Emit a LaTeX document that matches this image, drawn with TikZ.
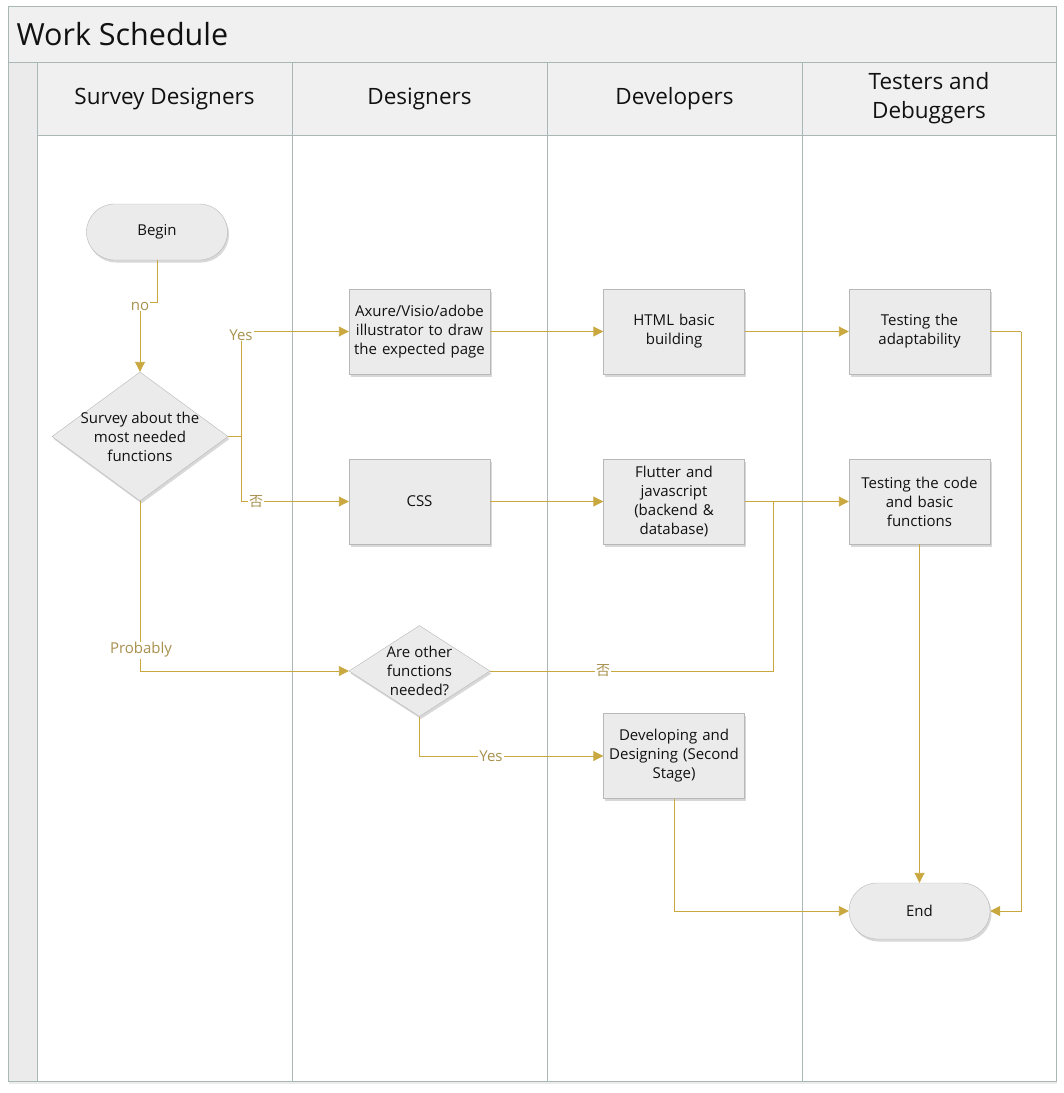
\documentclass[tikz,border=0pt]{standalone}
\usepackage{fontspec}
\setmainfont{Open Sans}
\newfontfamily\cjk{Noto Sans CJK SC}
\usetikzlibrary{arrows.meta,shadows,shapes.geometric}
\definecolor{gold}{HTML}{C9A840}
\definecolor{lblc}{HTML}{A8914E}
\definecolor{nodefill}{HTML}{EBEBEB}
\definecolor{nodeline}{HTML}{B8B8B8}
\definecolor{lanec}{HTML}{A9B8B6}
\definecolor{hdrfill}{HTML}{F0F0F0}
\definecolor{txt}{HTML}{111111}
\tikzset{
  nshadow/.style={drop shadow={shadow xshift=1.5pt,shadow yshift=-2.5pt,opacity=0.25,fill=black!60}},
  box/.style={rectangle,draw=nodeline,fill=nodefill,minimum width=141pt,minimum height=85pt,
    align=center,text width=138pt,inner sep=0pt,font=\fontsize{15}{19}\selectfont,text=txt,nshadow},
  term/.style={rectangle,rounded corners=28pt,draw=nodeline,fill=nodefill,minimum width=141pt,
    minimum height=56pt,align=center,font=\fontsize{15}{19}\selectfont,text=txt,nshadow},
  decision/.style={diamond,draw=nodeline,fill=nodefill,inner sep=0pt,nshadow},
  flow/.style={draw=gold,line width=0.9pt,-{Triangle[length=10pt,width=10pt]}},
  seg/.style={draw=gold,line width=0.9pt},
  lbl/.style={fill=white,inner sep=1pt,text=lblc,font=\fontsize{15}{17}\selectfont},
  hdr/.style={rectangle,draw=lanec,fill=hdrfill,minimum width=255pt,minimum height=73pt,
    align=center,font=\fontsize{22.5}{29}\selectfont,text=txt},
}
\begin{document}
\begin{tikzpicture}[x=1pt,y=-1pt]
\useasboundingbox (0,0) rectangle (1064,1093);
% outer frame
\fill[white,drop shadow={shadow xshift=1pt,shadow yshift=-3pt,opacity=0.15}] (8,6) rectangle (1056,1081);
\draw[lanec,fill=white] (8,6) rectangle (1056,1081);
\draw[lanec,fill=hdrfill] (8,6) rectangle (1056,62);
\node[anchor=west,font=\fontsize{30.5}{34}\selectfont,text=txt] (title) at (13,34) {Work Schedule};
\draw[lanec,fill=nodefill] (8,62) rectangle (37,1081);
% headers
\node[hdr] (h1) at (164.5,98.5) {Survey Designers};
\node[hdr] (h2) at (419.5,98.5) {Designers};
\node[hdr] (h3) at (674.5,98.5) {Developers};
\node[hdr,minimum width=254pt] (h4) at (929,98.5) {Testers and\\Debuggers};
\draw[lanec] (292,135) -- (292,1081);
\draw[lanec] (547,135) -- (547,1081);
\draw[lanec] (802,135) -- (802,1081);
\draw[lanec] (8,1081) -- (1056,1081);
% nodes
\node[term] (begin) at (157,232) {Begin};
\node[decision,minimum width=176pt,minimum height=129pt,
  label={[align=center,font=\fontsize{15}{19}\selectfont,text=txt]center:Survey about the\\most needed\\functions}] (survey) at (140,436.5) {};
\node[box] (axure) at (419.5,331.5) {Axure/Visio/adobe\\illustrator to draw\\the expected page};
\node[box] (css) at (419.5,501.5) {CSS};
\node[box] (html) at (674,331.5) {HTML basic\\building};
\node[box] (flutter) at (674,501.5) {Flutter and\\javascript\\(backend \&\\database)};
\node[box] (tadapt) at (919.5,331.5) {Testing the\\adaptability};
\node[box] (tcode) at (919.5,501.5) {Testing the code\\and basic\\functions};
\node[decision,minimum width=141pt,minimum height=91pt,
  label={[align=center,font=\fontsize{15}{19}\selectfont,text=txt]center:Are other\\functions\\needed?}] (are) at (419.5,671) {};
\node[box] (dev) at (674,756) {Developing and\\Designing (Second\\Stage)};
\node[term] (end) at (919.5,911) {End};
% connectors
\coordinate (jno) at (157,302);
\coordinate (split) at (241,436.5);
\coordinate (join) at (773,501.5);
\coordinate (rt) at (1021,331.5);
\draw[flow] (begin.south) -- (jno) -| (survey.north);
\draw[seg] (survey.east) -- (split);
\draw[flow] (split) |- (axure.west);
\draw[flow] (split) |- (css.west);
\draw[flow] (axure.east) -- (html.west);
\draw[flow] (html.east) -- (tadapt.west);
\draw[flow] (css.east) -- (flutter.west);
\draw[flow] (flutter.east) -- (tcode.west);
\draw[flow] (survey.south) |- (are.west);
\draw[seg] (are.east) -| (join);
\draw[flow] (are.south) |- (dev.west);
\draw[flow] (dev.south) |- (end.west);
\draw[flow] (tcode.south) -- (end.north);
\draw[seg] (tadapt.east) -- (rt);
\draw[flow] (rt) |- (end.east);
% labels
\node[lbl] (lno) at (140,306) {no};
\node[lbl] (lyes1) at (241,335) {Yes};
\node[lbl,font=\cjk\fontsize{14}{16}\selectfont] (lno1) at (256,501.5) {否};
\node[lbl] (lprob) at (141,650) {Probably};
\node[lbl,font=\cjk\fontsize{14}{16}\selectfont] (lno2) at (603,671) {否};
\node[lbl] (lyes2) at (491,756) {Yes};
\end{tikzpicture}
\end{document}
